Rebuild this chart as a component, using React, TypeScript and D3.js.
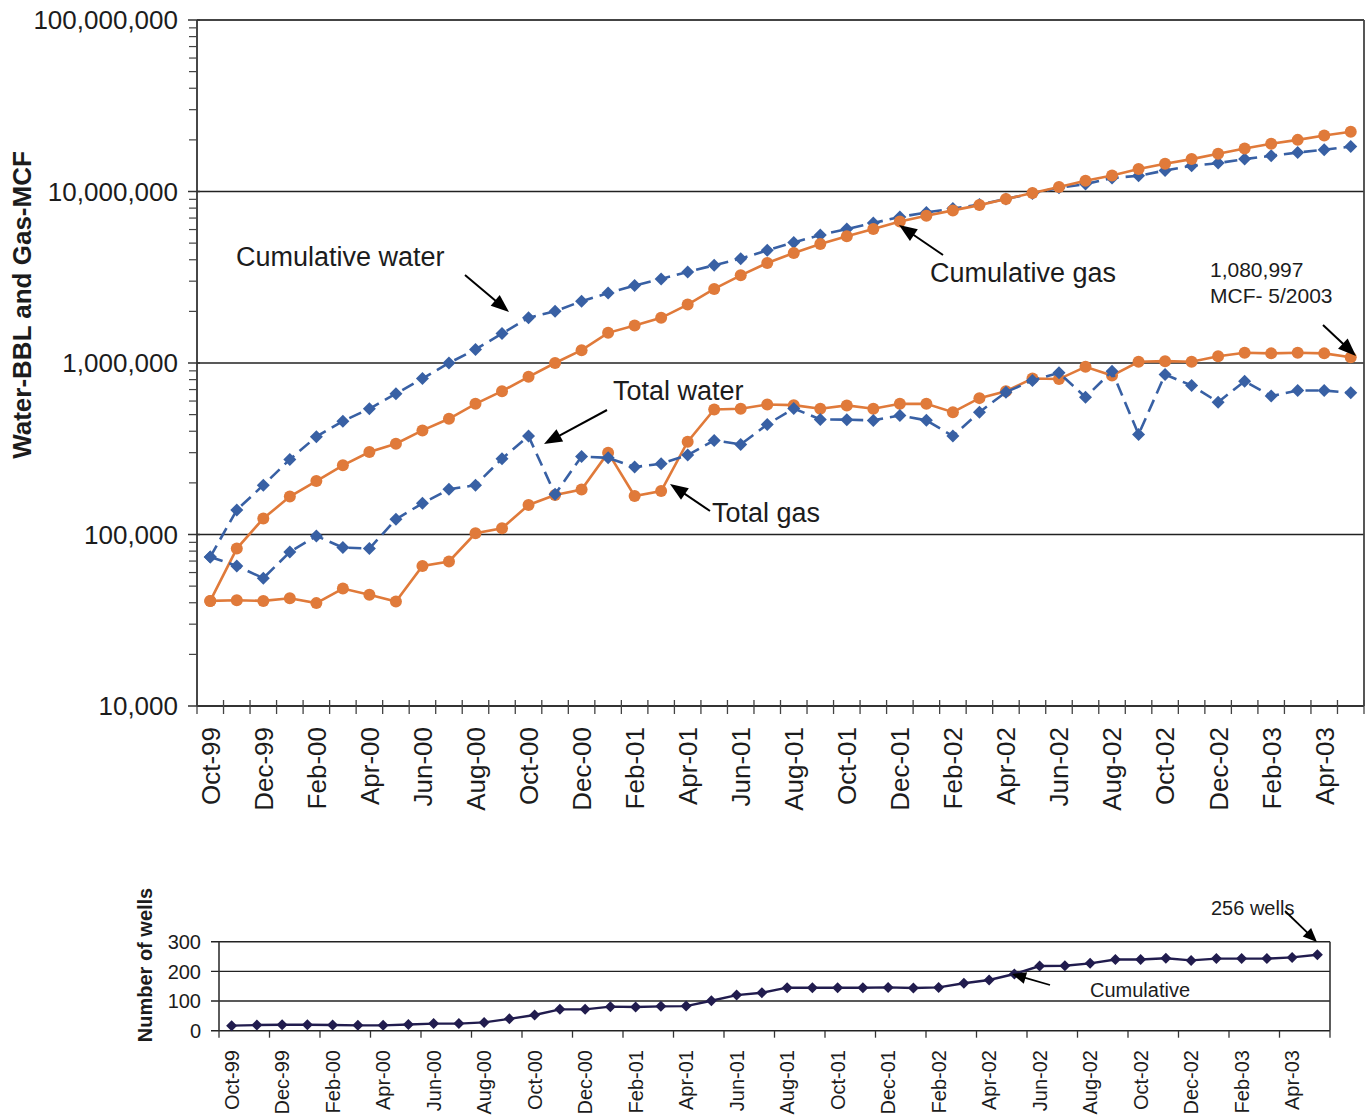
import React from "react";
import * as d3 from "d3";

const months = [
  "Oct-99","Nov-99","Dec-99","Jan-00","Feb-00","Mar-00","Apr-00","May-00","Jun-00","Jul-00","Aug-00","Sep-00",
  "Oct-00","Nov-00","Dec-00","Jan-01","Feb-01","Mar-01","Apr-01","May-01","Jun-01","Jul-01","Aug-01","Sep-01",
  "Oct-01","Nov-01","Dec-01","Jan-02","Feb-02","Mar-02","Apr-02","May-02","Jun-02","Jul-02","Aug-02","Sep-02",
  "Oct-02","Nov-02","Dec-02","Jan-03","Feb-03","Mar-03","Apr-03","May-03"
];

const cumWater = [74000, 139000, 194000, 274000, 372000, 458000, 541000, 662000, 812000, 1000000,
  1200000, 1485000, 1834000, 2003000, 2290000, 2560000, 2826000, 3090000, 3396000, 3715000,
  4060000, 4538000, 5050000, 5575000, 6040000, 6550000, 7100000, 7550000, 7950000, 8400000,
  9050000, 9750000, 10500000, 11050000, 11980000, 12350000, 13260000, 14130000, 14640000, 15450000,
  16150000, 16880000, 17500000, 18290000];

const cumGas = [41000, 82800, 123900, 166300, 205000, 253000, 302600, 338400, 404600, 473000,
  578000, 685000, 831000, 1000000, 1188000, 1499000, 1653000, 1834000, 2191000, 2705000,
  3245000, 3830000, 4383000, 4944000, 5475000, 6045000, 6693000, 7220000, 7760000, 8330000,
  9040000, 9790000, 10610000, 11550000, 12410000, 13510000, 14510000, 15450000, 16590000, 17810000,
  18970000, 20000000, 21200000, 22280000];

const totalWater = [74000, 65600, 55600, 79100, 98100, 83900, 82800, 122700, 152000, 183400,
  194000, 276800, 374700, 171500, 285000, 280000, 247300, 258800, 290500, 353800,
  335200, 438500, 543000, 469000, 467000, 462800, 494500, 463000, 374700, 517000,
  676000, 790700, 877000, 632000, 896000, 383400, 857000, 739600, 591000, 783600,
  641000, 691500, 691500, 670500];

const totalGas = [41000, 41400, 41000, 42500, 39800, 48400, 44500, 40700, 65600, 69600,
  101700, 108700, 148600, 170000, 183000, 300000, 167600, 179300, 347700, 536000,
  541000, 573000, 568000, 541000, 566000, 541000, 578000, 578000, 517000, 624000,
  685000, 812000, 806000, 950000, 845000, 1016000, 1025000, 1016000, 1096000, 1147000,
  1138000, 1147000, 1138000, 1080997];

const wells = [17, 19, 20, 20, 19, 18, 18, 21, 24, 24, 28, 40, 53, 72, 72, 81, 80, 82, 83, 101,
  120, 128, 145, 145, 145, 145, 146, 144, 146, 160, 171, 191, 218, 219, 227, 240, 240, 244, 237, 243,
  243, 243, 247, 256];

const mainTicks = [1e4, 1e5, 1e6, 1e7, 1e8];
const wellTicks = [0, 100, 200, 300];

const FONT = "Arial, 'Liberation Sans', Helvetica, sans-serif";
const BLUE = "#3860a4";
const ORANGE = "#e07a3a";
const NAVY = "#211c4e";
const INK = "#1c1c1c";

const M = { left: 197, right: 1364, top: 20, bottom: 706 };
const S = { left: 219, right: 1330, top: 941.7, bottom: 1030.7 };

function Arrow({ x1, y1, x2, y2, len = 18, hw = 7, sw = 2 }: any) {
  const dx = x2 - x1, dy = y2 - y1;
  const L = Math.hypot(dx, dy);
  const ux = dx / L, uy = dy / L;
  const bx = x2 - ux * len, by = y2 - uy * len;
  const pts = `${x2},${y2} ${bx - uy * hw},${by + ux * hw} ${bx + uy * hw},${by - ux * hw}`;
  return (
    <g>
      <line x1={x1} y1={y1} x2={bx + ux * 2} y2={by + uy * 2} stroke="#000" strokeWidth={sw} />
      <polygon points={pts} fill="#000" />
    </g>
  );
}

const diamond = (cx: number, cy: number, r: number) =>
  `M${cx},${cy - r}L${cx + r},${cy}L${cx},${cy + r}L${cx - r},${cy}Z`;

export default function App() {
  const x = d3.scaleBand().domain(months).range([M.left, M.right]);
  const y = d3.scaleLog().domain([1e4, 1e8]).range([M.bottom, M.top]);
  const xs = d3.scaleBand().domain(months).range([S.left, S.right]);
  const ys = d3.scaleLinear().domain([0, 300]).range([S.bottom, S.top]);
  const cx = (i: number) => (x(months[i]) as number) + x.bandwidth() / 2;
  const cxs = (i: number) => (xs(months[i]) as number) + xs.bandwidth() / 2;

  const line = d3.line<number>().x((_, i) => cx(i)).y((d) => y(d));
  const lineS = d3.line<number>().x((_, i) => cxs(i)).y((d) => ys(d));
  const fmt = d3.format(",");

  const minors: number[] = [];
  for (let e = 4; e < 8; e++) for (let k = 2; k <= 9; k++) minors.push(k * Math.pow(10, e));

  const blueSeries = (data: number[], key: string) => (
    <g key={key}>
      <path d={line(data) as string} fill="none" stroke={BLUE} strokeWidth={2.6} strokeDasharray="13 7" />
      {data.map((d, i) => (
        <path key={i} d={diamond(cx(i), y(d), 6.5)} fill={BLUE} />
      ))}
    </g>
  );
  const orangeSeries = (data: number[], key: string) => (
    <g key={key}>
      <path d={line(data) as string} fill="none" stroke={ORANGE} strokeWidth={2.6} />
      {data.map((d, i) => (
        <circle key={i} cx={cx(i)} cy={y(d)} r={6} fill={ORANGE} />
      ))}
    </g>
  );

  return (
    <svg width={1371} height={1115} style={{ position: "absolute", left: 0, top: 0, background: "#fff" }}
      fontFamily={FONT}>
      <rect x={0} y={0} width={1371} height={1115} fill="#fff" />
      {/* ===== main chart ===== */}
      {/* gridlines */}
      {mainTicks.slice(1, 4).map((t) => (
        <line key={t} x1={M.left} x2={M.right} y1={y(t)} y2={y(t)} stroke="#222" strokeWidth={1.6} />
      ))}
      {/* frame */}
      <line x1={M.left} x2={M.right} y1={M.top} y2={M.top} stroke="#444" strokeWidth={1.8} />
      <line x1={M.right} x2={M.right} y1={M.top} y2={M.bottom} stroke="#444" strokeWidth={1.8} />
      <line x1={M.left} x2={M.left} y1={M.top} y2={M.bottom} stroke="#333" strokeWidth={1.8} />
      <line x1={M.left} x2={M.right} y1={M.bottom} y2={M.bottom} stroke="#333" strokeWidth={1.8} />
      {/* y ticks */}
      {minors.map((t) => (
        <line key={t} x1={M.left - 8} x2={M.left} y1={y(t)} y2={y(t)} stroke="#444" strokeWidth={1.2} />
      ))}
      {mainTicks.map((t) => (
        <g key={t}>
          <line x1={M.left - 9} x2={M.left + 3} y1={y(t)} y2={y(t)} stroke="#333" strokeWidth={1.5} />
          <text x={178} y={y(t)} dy="0.36em" textAnchor="end" fontSize={26} fill={INK}>{fmt(t)}</text>
        </g>
      ))}
      {/* x ticks */}
      {d3.range(months.length + 1).map((k) => {
        const xx = M.left + k * x.bandwidth();
        return <line key={k} x1={xx} x2={xx} y1={M.bottom - 6} y2={M.bottom + 8} stroke="#444" strokeWidth={1.3} />;
      })}
      {months.map((m, i) =>
        i % 2 === 0 ? (
          <text key={m} transform={`translate(${cx(i)},727) rotate(-90)`} textAnchor="end" dy="0.36em"
            fontSize={26} fill={INK}>{m}</text>
        ) : null
      )}
      {/* axis title */}
      <text transform="translate(22,305) rotate(-90)" textAnchor="middle" dy="0.36em" fontSize={26}
        fontWeight="bold" fill={INK}>Water-BBL and Gas-MCF</text>

      {/* series */}
      {blueSeries(cumWater, "cw")}
      {orangeSeries(cumGas, "cg")}
      {orangeSeries(totalGas, "tg")}
      {blueSeries(totalWater, "tw")}

      {/* annotations */}
      <text x={236} y={266} fontSize={27} fill={INK}>Cumulative water</text>
      <Arrow x1={465} y1={275} x2={509} y2={312} />
      <text x={930} y={282} fontSize={27} fill={INK}>Cumulative gas</text>
      <Arrow x1={943} y1={255} x2={899} y2={225} />
      <text x={1210} y={277} fontSize={21} fill={INK}>1,080,997</text>
      <text x={1210} y={303} fontSize={21} fill={INK}>MCF- 5/2003</text>
      <Arrow x1={1323} y1={325} x2={1356} y2={356} />
      <text x={613} y={400} fontSize={27} fill={INK}>Total water</text>
      <Arrow x1={607} y1={410} x2={544} y2={444} />
      <text x={712} y={522} fontSize={27} fill={INK}>Total gas</text>
      <Arrow x1={710} y1={511} x2={670} y2={484} />

      {/* ===== wells chart ===== */}
      {wellTicks.map((t) => (
        <g key={t}>
          <line x1={S.left - 8} x2={S.right} y1={ys(t)} y2={ys(t)} stroke="#222" strokeWidth={1.4} />
          <text x={201} y={ys(t)} dy="0.36em" textAnchor="end" fontSize={20} fill={INK}>{t}</text>
        </g>
      ))}
      <line x1={S.left} x2={S.left} y1={S.top} y2={S.bottom} stroke="#333" strokeWidth={1.6} />
      <line x1={S.right} x2={S.right} y1={S.top} y2={S.bottom} stroke="#333" strokeWidth={1.6} />
      {d3.range(0, months.length + 1, 2).map((k) => {
        const xx = S.left + k * xs.bandwidth();
        return <line key={k} x1={xx} x2={xx} y1={S.bottom} y2={S.bottom + 7} stroke="#333" strokeWidth={1.3} />;
      })}
      {months.map((m, i) =>
        i % 2 === 0 ? (
          <text key={m} transform={`translate(${cxs(i)},1050) rotate(-90)`} textAnchor="end" dy="0.36em"
            fontSize={20} fill={INK}>{m}</text>
        ) : null
      )}
      <text transform="translate(145,965) rotate(-90)" textAnchor="middle" dy="0.36em" fontSize={20}
        fontWeight="bold" fill={INK}>Number of wells</text>
      <path d={lineS(wells) as string} fill="none" stroke={NAVY} strokeWidth={2.4} />
      {wells.map((d, i) => (
        <path key={i} d={diamond(cxs(i), ys(d), 5.5)} fill={NAVY} />
      ))}
      <text x={1211} y={915} fontSize={20} fill={INK}>256 wells</text>
      <Arrow x1={1285} y1={911} x2={1317} y2={942} len={14} hw={6} sw={1.8} />
      <text x={1090} y={997} fontSize={20} fill={INK}>Cumulative</text>
      <Arrow x1={1050} y1={985} x2={1012} y2={974} len={14} hw={6} sw={1.8} />
    </svg>
  );
}
